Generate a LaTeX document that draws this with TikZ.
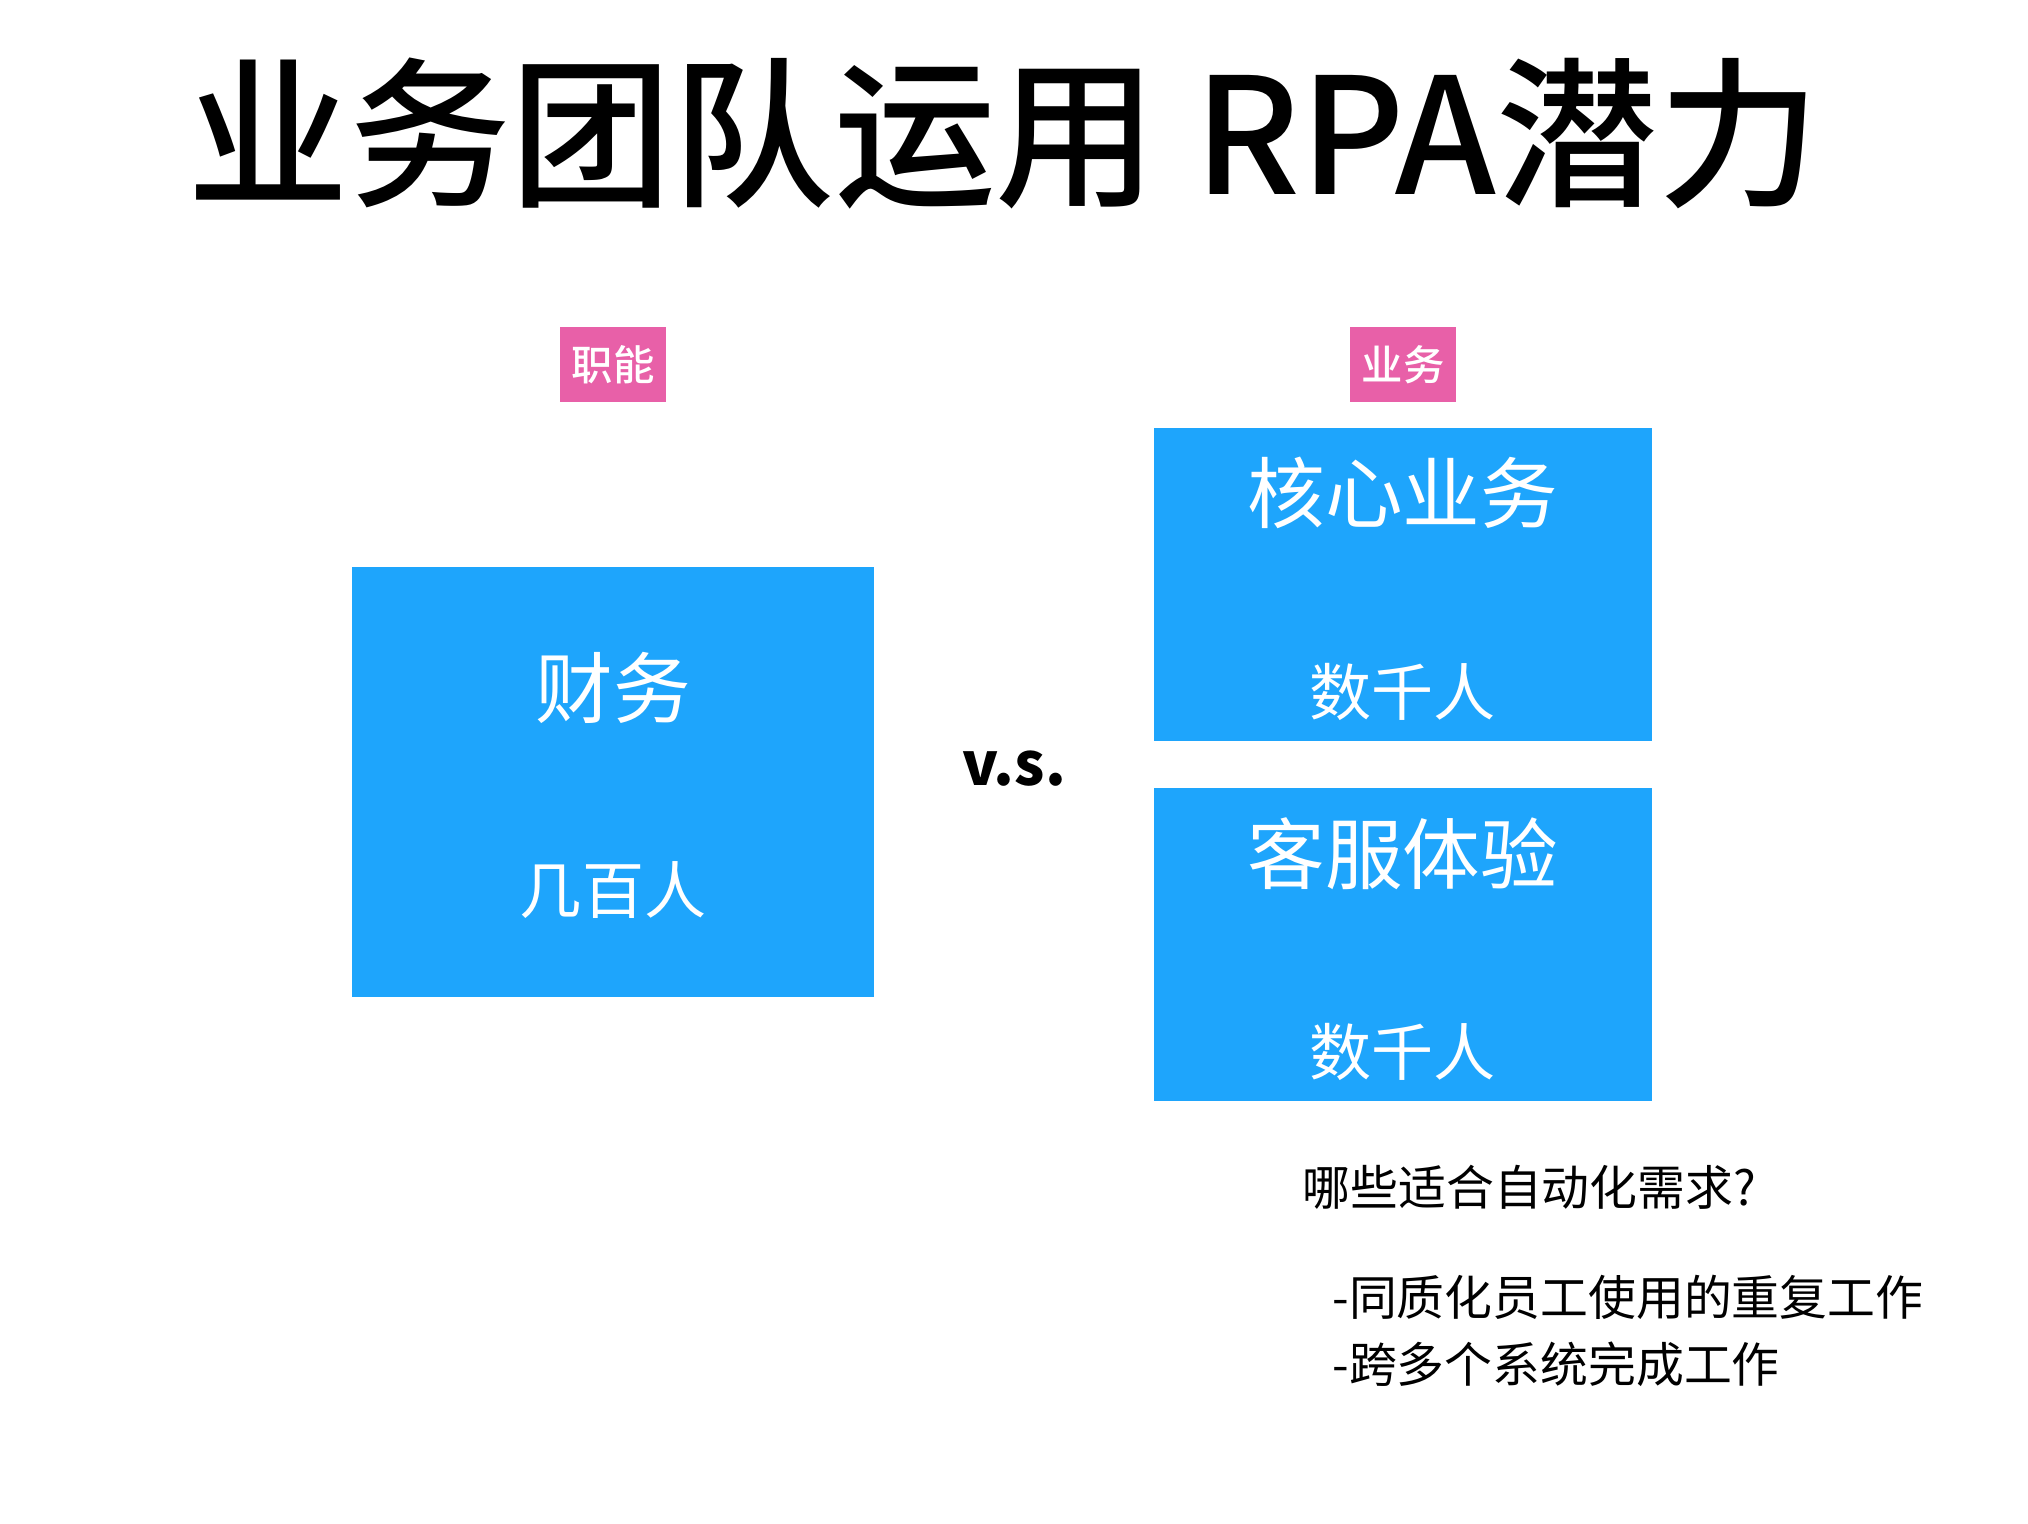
\documentclass[tikz,border=0pt]{standalone}
\usepackage{fontspec}
\setmainfont{Noto Sans CJK SC}
\newfontfamily\cjkmedium{Noto Sans CJK SC Medium}
\usepackage{xcolor}
\usepackage{tikz}
\usetikzlibrary{positioning}
\definecolor{tagpink}{RGB}{232,96,168}
\definecolor{teamblue}{RGB}{30,165,252}

\begin{document}
\begin{tikzpicture}[
    x=1pt, y=-1pt,
    tag/.style={fill=tagpink, text=white, minimum width=82pt, minimum height=58pt, inner sep=0pt, font=\fontsize{32}{32}\selectfont\cjkmedium},
    team/.style={fill=teamblue, inner sep=0pt},
    big/.style={text=white, inner sep=0pt, font=\fontsize{60}{60}\selectfont},
    count/.style={text=white, inner sep=0pt, font=\fontsize{48}{48}\selectfont},
    note/.style={anchor=base west, inner sep=0pt, font=\fontsize{37}{37}\selectfont},
]
\useasboundingbox (0,0) rectangle (1568,1178);
\node[anchor=base, inner sep=0pt, font=\fontsize{125}{125}\selectfont\cjkmedium] (title) at (776,150) {业务团队运用 RPA潜力};

\node[tag] (func) at (474,282) {职能};
\node[tag] (biz) at (1085,282) {业务};

\node[team, minimum width=404pt, minimum height=333pt] (finance) at (474,604.5) {};
\node[team, minimum width=385pt, minimum height=242pt] (core) at (1084.5,452) {};
\node[team, minimum width=385pt, minimum height=242pt] (service) at (1084.5,730) {};

\node[big] (financeName) at (474,532) {财务};
\node[count] (financeCount) at (474,688) {几百人};
\node[big] (coreName) at (1084.5,381) {核心业务};
\node[count] (coreCount) at (1084.5,535) {数千人};
\node[big] (serviceName) at (1084.5,660) {客服体验};
\node[count] (serviceCount) at (1084.5,813) {数千人};

\node[anchor=base, inner sep=0pt, font=\fontsize{46}{46}\selectfont\bfseries] (vs) at (784,607) {v.s.};

\node[note] (question) at (1007,932) {哪些适合自动化需求?};
\node[note] (point1) at (1030,1017) {-同质化员工使用的重复工作};
\node[note] (point2) at (1030,1069) {-跨多个系统完成工作};
\end{tikzpicture}
\end{document}
